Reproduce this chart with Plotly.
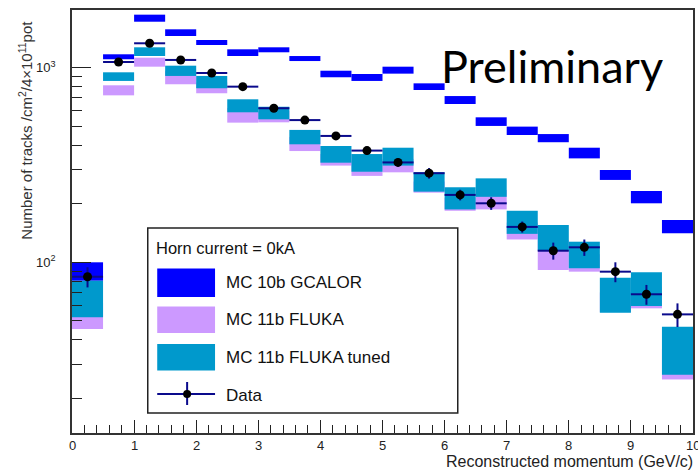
import plotly.graph_objects as go

# Momentum bins (GeV/c): lower edges, width 0.5
bin_lo = [0.0, 0.5, 1.0, 1.5, 2.0, 2.5, 3.0, 3.5, 4.0, 4.5,
          5.0, 5.5, 6.0, 6.5, 7.0, 7.5, 8.0, 8.5, 9.0, 9.5]
bin_width = 0.5

# MC 10b GCALOR band (low / high)
gcalor_lo = [80.4, 1105, 1723, 1455, 1308, 1148, 1200, 1082, 893, 855,
             932, 768, 651, 502, 451, 414, 342, 265, 201, 141]
gcalor_hi = [100, 1172, 1873, 1575, 1388, 1243, 1273, 1148, 965, 928,
             1012, 831, 715, 556, 498, 456, 388, 298, 232.5, 165]

# MC 11b FLUKA band (low / high)
fluka_lo = [45.4, 721, 1012, 822, 739, 522, 524, 373, 314, 278,
            290, 228, 184, 187, 131, 91.3, 89.5, 55.5, 58, 25]
fluka_hi = [62, 812, 1126, 960, 840, 620, 600, 440, 360, 330,
            340, 260, 215, 235, 160, 130, 110, 70, 75, 36]

# MC 11b FLUKA tuned band (low / high)
tuned_lo = [52.2, 855, 1148, 907, 784, 590, 543, 404, 325, 292,
            314, 230.7, 187, 217, 140, 114.7, 93.2, 55.1, 59.6, 26.4]
tuned_hi = [80.4, 947, 1273, 1024, 907, 688, 630, 479, 396, 360,
            388, 290, 243, 270, 184, 155.5, 127.6, 83.4, 88.8, 46.7]

# Data points with statistical errors
data_y = [84.3, 1070, 1335, 1096, 939, 799, 619, 538, 446, 375,
          326, 287, 222, 201, 152, 114.7, 119.4, 89.5, 68.5, 54]
data_err = [10, 25, 30, 25, 22, 19, 16, 15, 15, 17,
            15, 18, 14, 15, 10, 11.5, 11.5, 10.5, 8, 7.5]

x_ticks = [0, 1, 2, 3, 4, 5, 6, 7, 8, 9, 10]
y_major = [100, 1000]
y_major_text = ["10<sup>2</sup>", "10<sup>3</sup>"]
y_minor = [20, 30, 40, 50, 60, 70, 80, 90,
           200, 300, 400, 500, 600, 700, 800, 900]

legend_title = "Horn current = 0kA"
legend_labels = ["MC 10b GCALOR", "MC 11b FLUKA", "MC 11b FLUKA tuned", "Data"]

C_GCALOR = "#0000FF"
C_FLUKA = "#CC99FF"
C_TUNED = "#0099CC"
C_ERR = "#0a0a8c"
FONT = "Liberation Sans, Arial, Helvetica, sans-serif"

centers = [lo + bin_width / 2 for lo in bin_lo]

W, H = 698, 470
ML, MR, MT, MB = 72, 3, 10, 37
PW, PH = W - ML - MR, H - MT - MB


def px(xp):
    return (xp - ML) / PW


def py(yp):
    return (H - MB - yp) / PH


def band(lo, hi, color):
    return go.Bar(
        x=centers,
        y=[h - l for l, h in zip(lo, hi)],
        base=lo,
        width=bin_width,
        marker=dict(color=color, line=dict(width=0)),
        showlegend=False,
        hoverinfo="skip",
    )


fig = go.Figure()
fig.add_trace(band(gcalor_lo, gcalor_hi, C_GCALOR))
fig.add_trace(band(fluka_lo, fluka_hi, C_FLUKA))
fig.add_trace(band(tuned_lo, tuned_hi, C_TUNED))
fig.add_trace(go.Scatter(
    x=centers, y=data_y, mode="markers",
    marker=dict(color="black", size=9),
    error_y=dict(type="data", array=data_err, color=C_ERR, thickness=2, width=0),
    error_x=dict(type="constant", value=bin_width / 2, color=C_ERR, thickness=2, width=0),
    showlegend=False, hoverinfo="skip",
))

shapes = []
annotations = []

# Legend frame
shapes.append(dict(type="rect", xref="paper", yref="paper",
                   x0=px(148), x1=px(459), y0=py(413), y1=py(228),
                   line=dict(color="#222", width=1.5), fillcolor="white", layer="above"))
annotations.append(dict(text=legend_title, xref="paper", yref="paper",
                        x=px(154), y=py(248), xanchor="left", yanchor="middle",
                        showarrow=False, font=dict(family=FONT, size=16.5, color="#111")))

swatches = [(C_GCALOR, 268.5, 297), (C_FLUKA, 306.5, 333), (C_TUNED, 344, 370.5)]
for (col, y0, y1), lab in zip(swatches, legend_labels[:3]):
    shapes.append(dict(type="rect", xref="paper", yref="paper",
                       x0=px(157.5), x1=px(215.5), y0=py(y1), y1=py(y0),
                       line=dict(width=0), fillcolor=col, layer="above"))
    annotations.append(dict(text=lab, xref="paper", yref="paper",
                            x=px(224), y=py((y0 + y1) / 2), xanchor="left", yanchor="middle",
                            showarrow=False, font=dict(family=FONT, size=17, color="#111")))

# Data entry: cross with marker
shapes.append(dict(type="line", xref="paper", yref="paper",
                   x0=px(157.5), x1=px(215.5), y0=py(394), y1=py(394),
                   line=dict(color=C_ERR, width=2), layer="above"))
shapes.append(dict(type="line", xref="paper", yref="paper",
                   x0=px(187.5), x1=px(187.5), y0=py(405), y1=py(382),
                   line=dict(color=C_ERR, width=2), layer="above"))
shapes.append(dict(type="circle", xref="paper", yref="paper",
                   x0=px(183.5), x1=px(191.5), y0=py(398), y1=py(390),
                   line=dict(width=0), fillcolor="black", layer="above"))
annotations.append(dict(text=legend_labels[3], xref="paper", yref="paper",
                        x=px(224), y=py(395), xanchor="left", yanchor="middle",
                        showarrow=False, font=dict(family=FONT, size=17, color="#111")))

# Watermark
annotations.append(dict(text="Preliminary", xref="paper", yref="paper",
                        x=px(440), y=py(66), xanchor="left", yanchor="middle",
                        showarrow=False, font=dict(family="Lato, sans-serif", size=45, color="black")))

# X tick labels, written as text under the axis
for t in x_ticks:
    annotations.append(dict(text=str(t), xref="x", yref="paper",
                            x=t, y=py(445), xanchor="center", yanchor="middle",
                            showarrow=False, font=dict(family=FONT, size=13, color="#222")))

# Axis titles
annotations.append(dict(text="Reconstructed momentum (GeV/c)", xref="paper", yref="paper",
                        x=px(697), y=py(461), xanchor="right", yanchor="middle",
                        showarrow=False, font=dict(family=FONT, size=16, color="#222")))
annotations.append(dict(text="Number of tracks /cm<sup>2</sup>/4×10<sup>11</sup>pot",
                        xref="paper", yref="paper", textangle=-90,
                        x=px(25), y=py(19), xanchor="center", yanchor="top",
                        showarrow=False, font=dict(family=FONT, size=15, color="#333")))

fig.update_layout(
    width=W, height=H,
    margin=dict(l=ML, r=MR, t=MT, b=MB),
    paper_bgcolor="white", plot_bgcolor="white",
    barmode="overlay",
    shapes=shapes, annotations=annotations,
    showlegend=False,
    xaxis=dict(
        range=[0, 10], tick0=0, dtick=1,
        ticks="inside", ticklen=13, tickwidth=1.2, tickcolor="#222",
        showline=True, linecolor="#333", linewidth=1.5, mirror=True,
        showgrid=False, zeroline=False, showticklabels=False,
        minor=dict(ticks="inside", ticklen=8, tick0=0, dtick=0.2,
                   tickcolor="#222", tickwidth=1.2, showgrid=False),
    ),
    yaxis=dict(
        type="log", range=[1.1228, 3.2965],
        tickmode="array", tickvals=y_major, ticktext=y_major_text,
        ticks="inside", ticklen=19, tickwidth=1.2, tickcolor="#222",
        showline=True, linecolor="#333", linewidth=1.5, mirror=True,
        showgrid=False, zeroline=False,
        tickfont=dict(family=FONT, size=13, color="#222"),
        ticklabelstandoff=12,
        minor=dict(ticks="inside", ticklen=10, tickmode="array", tickvals=y_minor,
                   tickcolor="#222", tickwidth=1.2, showgrid=False),
    ),
)

fig.write_html("out.html")
